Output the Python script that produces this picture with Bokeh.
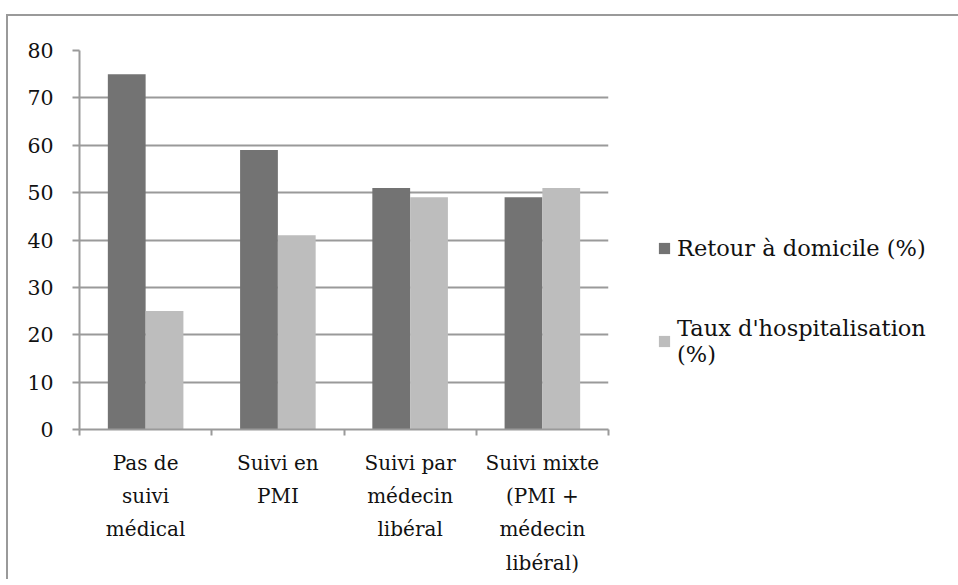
from bokeh.plotting import figure
from bokeh.models import ColumnDataSource, Range1d, FixedTicker, Legend, LegendItem
from bokeh.embed import file_html
from bokeh.resources import INLINE

categories = ["Pas de\nsuivi\nmédical", "Suivi en\nPMI", "Suivi par\nmédecin\nlibéral",
              "Suivi mixte\n(PMI +\nmédecin\nlibéral)"]
retour = [75, 59, 51, 49]
hospit = [25, 41, 49, 51]
series_names = ["Retour à domicile (%)", "Taux d'hospitalisation\n(%)"]
y_ticks = [0, 10, 20, 30, 40, 50, 60, 70, 80]

DARK = "#737373"
LIGHT = "#bdbdbd"
GRID = "#9a9a9a"
FONT = "DejaVu Serif"

n = len(categories)
centers = [i + 0.5 for i in range(n)]
bounds = [float(i) for i in range(n + 1)]
bw = 1 / 3.5

src = ColumnDataSource(dict(
    x1=[c - bw / 2 for c in centers],
    x2=[c + bw / 2 for c in centers],
    retour=retour,
    hospit=hospit,
))

p = figure(frame_width=529, frame_height=379,
           x_range=Range1d(0, n), y_range=Range1d(0, 80),
           output_backend="svg", toolbar_location=None,
           min_border_left=71, min_border_right=350,
           min_border_top=34, min_border_bottom=150)
p.styles = {"margin-top": "14px", "margin-left": "6px",
            "border-top": "2px solid #9a9a9a", "border-left": "2px solid #9a9a9a"}
p.outline_line_color = None
p.background_fill_color = "white"
p.border_fill_color = "white"

r1 = p.vbar(x="x1", top="retour", bottom=0, width=bw, source=src,
            fill_color=DARK, line_color=None)
r2 = p.vbar(x="x2", top="hospit", bottom=0, width=bw, source=src,
            fill_color=LIGHT, line_color=None)

# grid
p.xgrid.visible = False
p.ygrid.grid_line_color = GRID
p.ygrid.grid_line_width = 2
p.ygrid.ticker = FixedTicker(ticks=y_ticks)

# y axis
ya = p.yaxis[0]
ya.ticker = FixedTicker(ticks=y_ticks, minor_ticks=[])
ya.axis_line_color = GRID
ya.axis_line_width = 2
ya.major_tick_line_color = GRID
ya.major_tick_line_width = 2
ya.major_tick_out = 7
ya.major_tick_in = 0
ya.minor_tick_line_color = None
ya.major_label_standoff = 19
ya.major_label_text_font = FONT
ya.major_label_text_font_size = "20.5px"
ya.major_label_text_color = "#111111"

# x axis
xa = p.xaxis[0]
xa.ticker = FixedTicker(ticks=centers, minor_ticks=bounds)
xa.major_label_overrides = {c: lab for c, lab in zip(centers, categories)}
xa.axis_line_color = GRID
xa.axis_line_width = 2
xa.major_tick_line_color = None
xa.major_tick_out = 0
xa.major_tick_in = 0
xa.minor_tick_line_color = GRID
xa.minor_tick_line_width = 2
xa.minor_tick_out = 6
xa.minor_tick_in = 0
xa.major_label_standoff = 15
xa.major_label_text_font = FONT
xa.major_label_text_font_size = "20px"
xa.major_label_text_line_height = 1.39
xa.major_label_text_color = "#111111"

legend = Legend(items=[LegendItem(label=series_names[0], renderers=[r1]),
                       LegendItem(label=series_names[1], renderers=[r2])],
                location=(49, 62), orientation="vertical")
legend.border_line_color = None
legend.background_fill_alpha = 0
legend.padding = 0
legend.margin = 0
legend.spacing = 54
legend.glyph_width = 14
legend.glyph_height = 14
legend.label_standoff = 6
legend.label_text_font = FONT
legend.label_text_font_size = "22.5px"
legend.label_text_color = "#111111"
legend.label_text_line_height = 1.08
p.add_layout(legend, "right")

open("out.html", "w").write(file_html(p, INLINE))
